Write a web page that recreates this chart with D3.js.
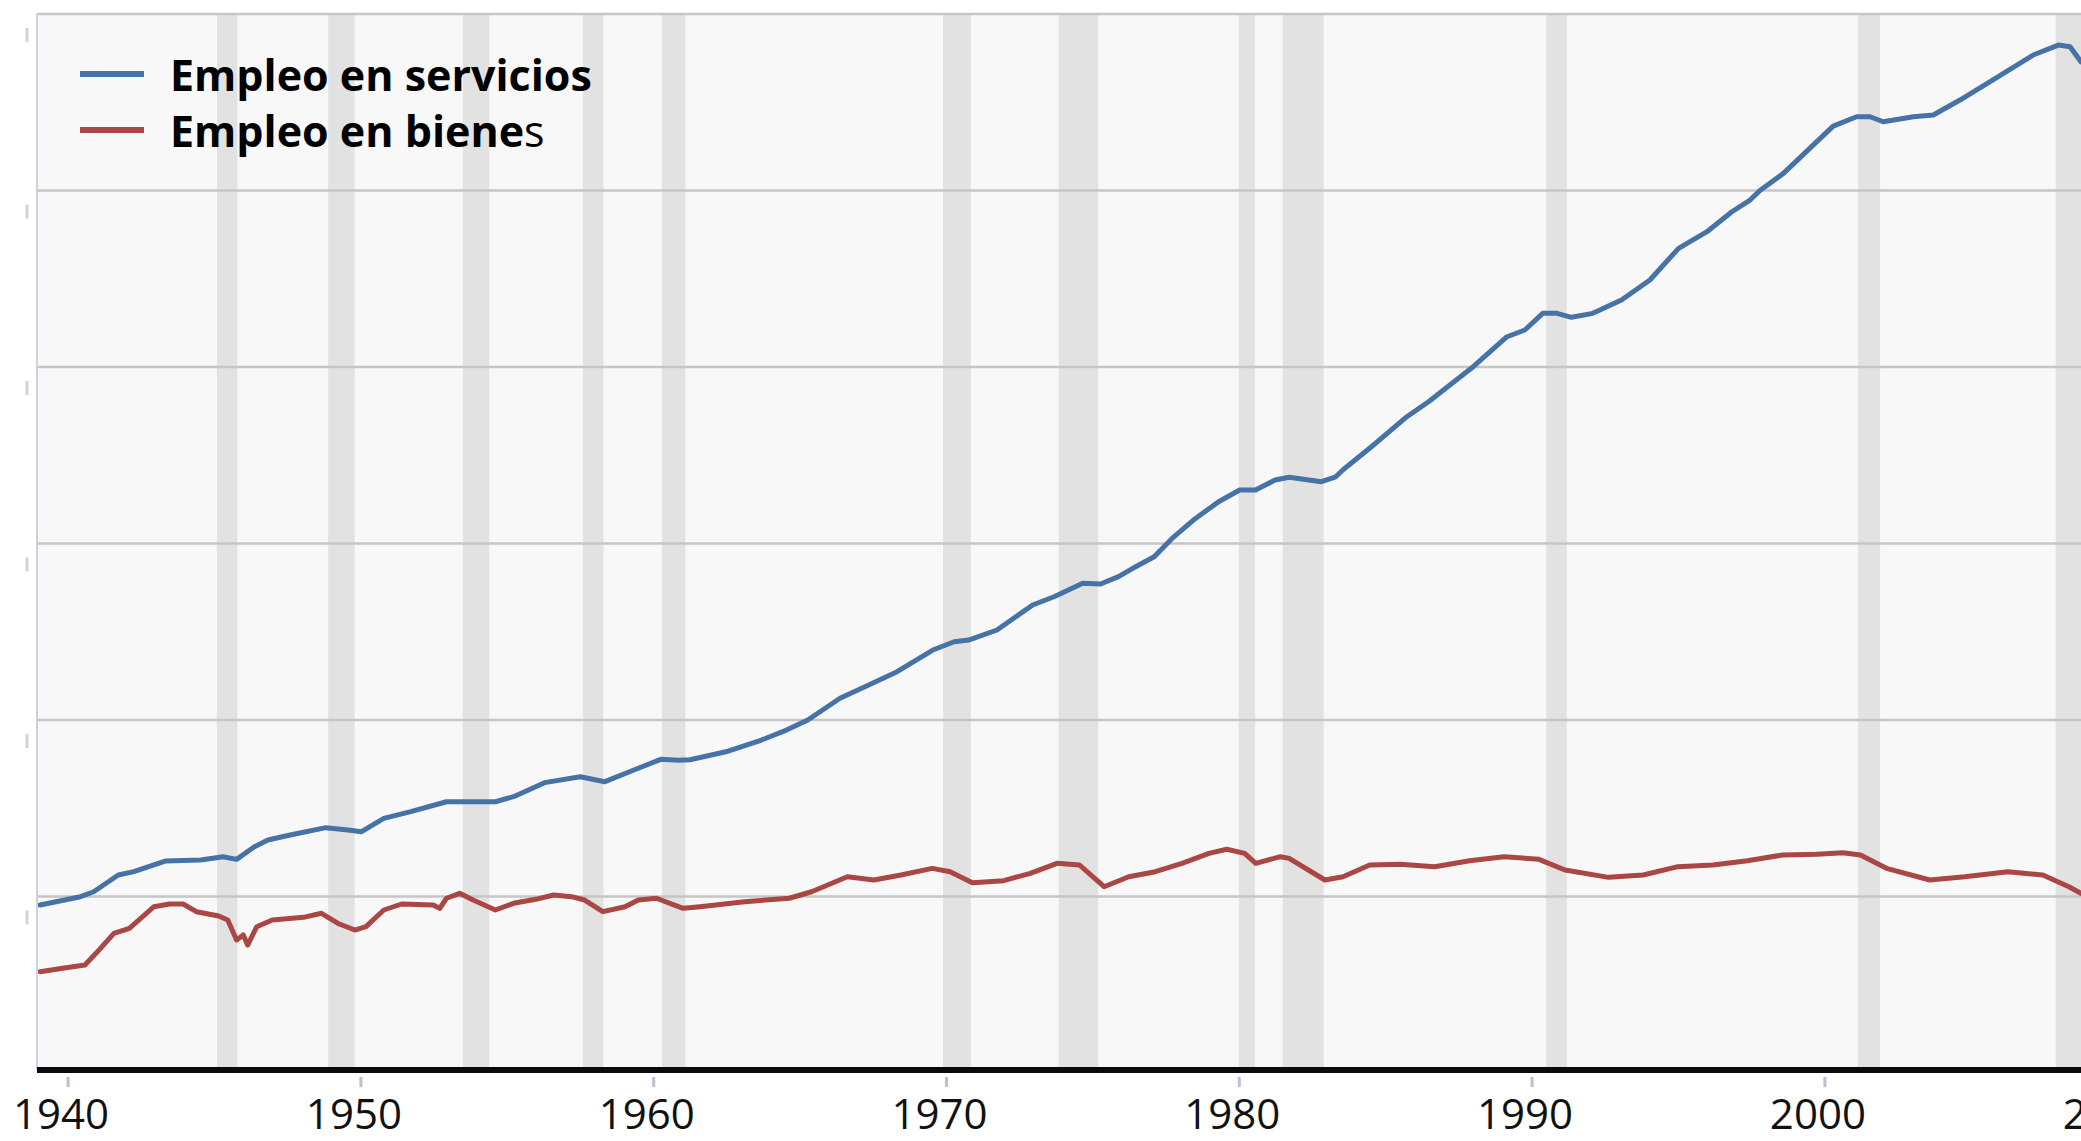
<!DOCTYPE html>
<html>
<head>
<meta charset="utf-8">
<script src="https://cdn.jsdelivr.net/npm/d3@7"></script>
<style>
  html, body { margin: 0; padding: 0; background: #fff; overflow: hidden; }
  svg { display: block; }
  .tick-label { font-family: 'Open Sans', sans-serif; font-size: 42px; fill: #111; }
  .legend-label { font-family: 'Open Sans', sans-serif; font-size: 43px; font-weight: bold; fill: #000; }
</style>
</head>
<body>
<div id="chart"></div>
<script>
// series (thousands of jobs)
const servicesYears = [1939.06, 1940.44, 1940.89, 1941.73, 1942.26, 1943.33, 1944.55, 1945.31, 1945.77, 1946.38, 1946.84, 1947.60, 1948.82, 1949.58, 1950.04, 1950.80, 1951.72, 1952.94, 1953.85, 1954.61, 1955.23, 1956.29, 1957.51, 1958.35, 1959.34, 1960.26, 1960.87, 1961.26, 1962.48, 1963.70, 1964.55, 1965.28, 1966.38, 1967.36, 1968.33, 1969.55, 1970.28, 1970.77, 1971.74, 1972.96, 1973.69, 1974.67, 1975.28, 1975.89, 1976.38, 1977.11, 1977.72, 1978.45, 1979.31, 1980.03, 1980.57, 1981.24, 1981.72, 1982.82, 1983.31, 1983.55, 1984.53, 1985.74, 1986.48, 1987.94, 1989.16, 1989.77, 1990.38, 1990.87, 1991.36, 1992.09, 1993.07, 1994.04, 1995.02, 1995.99, 1996.84, 1997.46, 1997.80, 1998.60, 2000.30, 2001.10, 2001.56, 2002.01, 2003.04, 2003.72, 2004.63, 2005.66, 2007.13, 2007.99, 2008.39, 2008.76];
const servicesValues = [19040, 19980, 20540, 22440, 22820, 24020, 24130, 24510, 24210, 25640, 26400, 26970, 27800, 27530, 27340, 28860, 29610, 30740, 30740, 30740, 31310, 32900, 33570, 33010, 34330, 35540, 35450, 35500, 36400, 37730, 38860, 40000, 42460, 43960, 45470, 47930, 48870, 49060, 50200, 53030, 53970, 55490, 55410, 56240, 57190, 58500, 60580, 62660, 64730, 66060, 66060, 67190, 67500, 67000, 67560, 68330, 70970, 74370, 76070, 79850, 83430, 84190, 86080, 86080, 85630, 86080, 87590, 89860, 93450, 95330, 97590, 98920, 100000, 101940, 107300, 108360, 108360, 107790, 108360, 108550, 110250, 112330, 115350, 116480, 116290, 114590];

const goodsYears = [1939.06, 1939.83, 1940.59, 1940.97, 1941.58, 1942.11, 1942.95, 1943.48, 1943.94, 1944.40, 1945.16, 1945.47, 1945.77, 1946.00, 1946.15, 1946.46, 1946.99, 1948.06, 1948.67, 1949.28, 1949.81, 1950.19, 1950.80, 1951.41, 1952.48, 1952.71, 1952.94, 1953.39, 1953.85, 1954.61, 1955.23, 1955.99, 1956.60, 1957.21, 1957.66, 1958.28, 1959.04, 1959.49, 1960.11, 1961.02, 1961.60, 1963.12, 1964.65, 1965.41, 1966.63, 1967.54, 1968.46, 1969.53, 1970.14, 1970.90, 1971.97, 1972.88, 1973.79, 1974.56, 1975.01, 1975.40, 1976.24, 1977.15, 1978.06, 1978.98, 1979.59, 1980.20, 1980.58, 1981.42, 1981.72, 1982.94, 1983.56, 1984.47, 1985.51, 1986.69, 1987.88, 1989.06, 1990.25, 1991.14, 1992.63, 1993.81, 1995.00, 1996.19, 1997.37, 1998.56, 1999.74, 2000.63, 2001.23, 2002.12, 2003.60, 2004.79, 2006.27, 2007.46, 2008.35, 2008.76];
const goodsValues = [11480, 11860, 12240, 13560, 15830, 16390, 18840, 19150, 19150, 18280, 17790, 17340, 15070, 15640, 14500, 16580, 17340, 17640, 18100, 16880, 16200, 16580, 18470, 19150, 19040, 18660, 19800, 20360, 19600, 18470, 19230, 19680, 20170, 19980, 19600, 18280, 18840, 19600, 19800, 18660, 18850, 19410, 19800, 20540, 22240, 21870, 22440, 23190, 22810, 21560, 21790, 22630, 23760, 23570, 22240, 21110, 22240, 22810, 23760, 24890, 25350, 24890, 23760, 24510, 24320, 21870, 22240, 23570, 23660, 23380, 24060, 24510, 24210, 23000, 22170, 22440, 23380, 23570, 24060, 24700, 24780, 24960, 24700, 23190, 21870, 22240, 22810, 22440, 21110, 20360];

// grey recession bands
const recessionStart = [1945.1, 1948.9, 1953.5, 1957.6, 1960.3, 1969.9, 1973.85, 1980.0, 1981.5, 1990.5, 2001.15, 2007.9];
const recessionEnd = [1945.8, 1949.8, 1954.4, 1958.3, 1961.1, 1970.85, 1975.2, 1980.55, 1982.9, 1991.2, 2001.9, 2009.5];

const yearTicks = [1940, 1950, 1960, 1970, 1980, 1990, 2000, 2010];
const gridValues = [20000, 40000, 60000, 80000, 100000, 120000];
const seriesNames = ['Empleo en servicios', 'Empleo en bienes'];
const seriesColors = ['#4572a7', '#aa4643'];

const width = 2081;
const height = 1141;
const plot = {left: 37, right: 2081, top: 13, bottom: 1070};

const svg = d3.select('#chart')
  .append('svg')
    .attr('width', width)
    .attr('height', height)
    .attr('viewBox', [0, 0, width, height]);

const x = d3.scaleLinear()
  .domain([1940, 2000])
  .range([67.6, 1824.4]);

const y = d3.scaleLinear()
  .domain([0, 120000])
  .range([1073, 14]);

svg.append('defs').append('clipPath')
    .attr('id', 'plot-clip')
  .append('rect')
    .attr('x', plot.left)
    .attr('y', plot.top - 2)
    .attr('width', plot.right - plot.left)
    .attr('height', plot.bottom - plot.top + 2);

// plot background
svg.append('rect')
  .attr('x', plot.left)
  .attr('y', plot.top)
  .attr('width', plot.right - plot.left)
  .attr('height', plot.bottom - plot.top)
  .attr('fill', '#f8f8f8');

const inner = svg.append('g').attr('clip-path', 'url(#plot-clip)');

// recession bands
inner.append('g')
  .selectAll('rect')
  .data(recessionStart)
  .join('rect')
    .attr('x', d => x(d))
    .attr('y', plot.top)
    .attr('width', (d, i) => x(recessionEnd[i]) - x(d))
    .attr('height', plot.bottom - plot.top)
    .attr('fill', '#e2e2e2');

// horizontal grid
inner.append('g')
  .selectAll('line')
  .data(gridValues)
  .join('line')
    .attr('x1', plot.left)
    .attr('x2', plot.right)
    .attr('y1', d => y(d))
    .attr('y2', d => y(d))
    .attr('stroke', '#c6c6c6')
    .attr('stroke-width', 2.6);

// leftovers of the cut-off value labels
svg.append('g')
  .selectAll('line')
  .data(gridValues)
  .join('line')
    .attr('x1', 27)
    .attr('x2', 27)
    .attr('y1', d => y(d) + 14)
    .attr('y2', d => y(d) + 28)
    .attr('stroke', '#d0d4d9')
    .attr('stroke-width', 3);

// left border
svg.append('line')
  .attr('x1', plot.left)
  .attr('x2', plot.left)
  .attr('y1', plot.top)
  .attr('y2', plot.bottom)
  .attr('stroke', '#c9d3df')
  .attr('stroke-width', 2);

const line = d3.line()
  .x(d => x(d[0]))
  .y(d => y(d[1]));

const seriesData = [
  d3.zip(servicesYears, servicesValues),
  d3.zip(goodsYears, goodsValues)
];

inner.append('g')
  .selectAll('path')
  .data(seriesData)
  .join('path')
    .attr('d', line)
    .attr('fill', 'none')
    .attr('stroke', (d, i) => seriesColors[i])
    .attr('stroke-width', 5)
    .attr('stroke-linejoin', 'round')
    .attr('stroke-linecap', 'round');

// x axis
const xAxis = svg.append('g')
  .attr('transform', `translate(0, ${plot.bottom})`)
  .call(d3.axisBottom(x).tickValues(yearTicks).tickFormat(d3.format('d')).tickSize(0));
xAxis.select('.domain').remove();
xAxis.append('line')
  .attr('x1', plot.left)
  .attr('x2', plot.right)
  .attr('y1', 0)
  .attr('y2', 0)
  .attr('stroke', '#0a0a0a')
  .attr('stroke-width', 6);
xAxis.selectAll('.tick line')
  .attr('y1', 7)
  .attr('y2', 17)
  .attr('stroke', '#b7c3d3')
  .attr('stroke-width', 3);
xAxis.selectAll('.tick text')
  .attr('class', 'tick-label')
  .attr('y', 59)
  .attr('dy', 0)
  .attr('dx', -7)
  .attr('font-size', null)
  .attr('font-family', null);

// legend
const legend = svg.append('g')
  .selectAll('g')
  .data(seriesNames)
  .join('g')
    .attr('transform', (d, i) => `translate(0, ${74 + i * 56})`);
legend.append('line')
  .attr('x1', 80)
  .attr('x2', 144)
  .attr('stroke', (d, i) => seriesColors[i])
  .attr('stroke-width', 6);
const legendText = legend.append('text')
  .attr('class', 'legend-label')
  .attr('x', 170)
  .attr('y', 17);
legendText.each(function(d, i) {
  const t = d3.select(this);
  if (i === 1) {
    // the last letter of the second entry is not bold in the original
    t.append('tspan').text(d.slice(0, -1));
    t.append('tspan').attr('font-weight', 'normal').text(d.slice(-1));
  } else {
    t.text(d);
  }
});
</script>
</body>
</html>
